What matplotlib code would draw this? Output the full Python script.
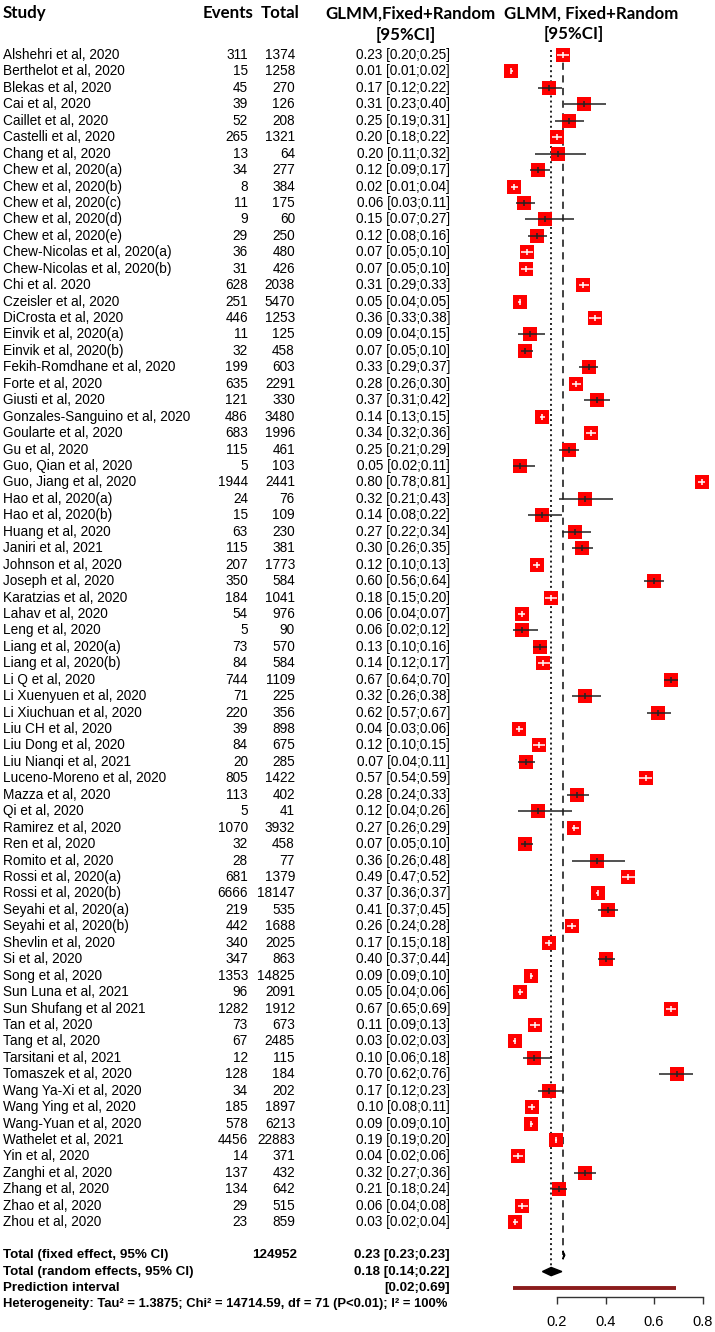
import matplotlib
matplotlib.use("Agg")
import matplotlib.pyplot as plt
import matplotlib.transforms as mtransforms
from matplotlib.patches import Polygon
import numpy as np

# study data
studies = [
    "Alshehri et al, 2020", "Berthelot et al, 2020", "Blekas et al, 2020", "Cai et al, 2020",
    "Caillet et al, 2020", "Castelli et al, 2020", "Chang et al, 2020", "Chew et al, 2020(a)",
    "Chew et al, 2020(b)", "Chew et al, 2020(c)", "Chew et al, 2020(d)", "Chew et al, 2020(e)",
    "Chew-Nicolas et al, 2020(a)", "Chew-Nicolas et al, 2020(b)", "Chi et al. 2020",
    "Czeisler et al, 2020", "DiCrosta et al, 2020", "Einvik et al, 2020(a)", "Einvik et al, 2020(b)",
    "Fekih-Romdhane et al, 2020", "Forte et al, 2020", "Giusti et al, 2020",
    "Gonzales-Sanguino et al, 2020", "Goularte et al, 2020", "Gu et al, 2020",
    "Guo, Qian et al, 2020", "Guo, Jiang et al, 2020", "Hao et al, 2020(a)", "Hao et al, 2020(b)",
    "Huang et al, 2020", "Janiri et al, 2021", "Johnson et al, 2020", "Joseph et al, 2020",
    "Karatzias et al, 2020", "Lahav et al, 2020", "Leng et al, 2020", "Liang et al, 2020(a)",
    "Liang et al, 2020(b)", "Li Q et al, 2020", "Li Xuenyuen et al, 2020", "Li Xiuchuan et al, 2020",
    "Liu CH et al, 2020", "Liu Dong et al, 2020", "Liu Nianqi et al, 2021",
    "Luceno-Moreno et al, 2020", "Mazza et al, 2020", "Qi et al, 2020", "Ramirez et al, 2020",
    "Ren et al, 2020", "Romito et al, 2020", "Rossi et al, 2020(a)", "Rossi et al, 2020(b)",
    "Seyahi et al, 2020(a)", "Seyahi et al, 2020(b)", "Shevlin et al, 2020", "Si et al, 2020",
    "Song et al, 2020", "Sun Luna et al, 2021", "Sun Shufang et al 2021", "Tan et al, 2020",
    "Tang et al, 2020", "Tarsitani et al, 2021", "Tomaszek et al, 2020", "Wang Ya-Xi et al, 2020",
    "Wang Ying et al, 2020", "Wang-Yuan et al, 2020", "Wathelet et al, 2021", "Yin et al, 2020",
    "Zanghi et al, 2020", "Zhang et al, 2020", "Zhao et al, 2020", "Zhou et al, 2020",
]
events = [311, 15, 45, 39, 52, 265, 13, 34, 8, 11, 9, 29, 36, 31, 628, 251, 446, 11, 32, 199,
          635, 121, 486, 683, 115, 5, 1944, 24, 15, 63, 115, 207, 350, 184, 54, 5, 73, 84, 744,
          71, 220, 39, 84, 20, 805, 113, 5, 1070, 32, 28, 681, 6666, 219, 442, 340, 347, 1353,
          96, 1282, 73, 67, 12, 128, 34, 185, 578, 4456, 14, 137, 134, 29, 23]
totals = [1374, 1258, 270, 126, 208, 1321, 64, 277, 384, 175, 60, 250, 480, 426, 2038, 5470,
          1253, 125, 458, 603, 2291, 330, 3480, 1996, 461, 103, 2441, 76, 109, 230, 381, 1773,
          584, 1041, 976, 90, 570, 584, 1109, 225, 356, 898, 675, 285, 1422, 402, 41, 3932, 458,
          77, 1379, 18147, 535, 1688, 2025, 863, 14825, 2091, 1912, 673, 2485, 115, 184, 202,
          1897, 6213, 22883, 371, 432, 642, 515, 859]
est = [0.23, 0.01, 0.17, 0.31, 0.25, 0.20, 0.20, 0.12, 0.02, 0.06, 0.15, 0.12, 0.07, 0.07, 0.31,
       0.05, 0.36, 0.09, 0.07, 0.33, 0.28, 0.37, 0.14, 0.34, 0.25, 0.05, 0.80, 0.32, 0.14, 0.27,
       0.30, 0.12, 0.60, 0.18, 0.06, 0.06, 0.13, 0.14, 0.67, 0.32, 0.62, 0.04, 0.12, 0.07, 0.57,
       0.28, 0.12, 0.27, 0.07, 0.36, 0.49, 0.37, 0.41, 0.26, 0.17, 0.40, 0.09, 0.05, 0.67, 0.11,
       0.03, 0.10, 0.70, 0.17, 0.10, 0.09, 0.19, 0.04, 0.32, 0.21, 0.06, 0.03]
ci_lo = [0.20, 0.01, 0.12, 0.23, 0.19, 0.18, 0.11, 0.09, 0.01, 0.03, 0.07, 0.08, 0.05, 0.05, 0.29,
         0.04, 0.33, 0.04, 0.05, 0.29, 0.26, 0.31, 0.13, 0.32, 0.21, 0.02, 0.78, 0.21, 0.08, 0.22,
         0.26, 0.10, 0.56, 0.15, 0.04, 0.02, 0.10, 0.12, 0.64, 0.26, 0.57, 0.03, 0.10, 0.04, 0.54,
         0.24, 0.04, 0.26, 0.05, 0.26, 0.47, 0.36, 0.37, 0.24, 0.15, 0.37, 0.09, 0.04, 0.65, 0.09,
         0.02, 0.06, 0.62, 0.12, 0.08, 0.09, 0.19, 0.02, 0.27, 0.18, 0.04, 0.02]
ci_hi = [0.25, 0.02, 0.22, 0.40, 0.31, 0.22, 0.32, 0.17, 0.04, 0.11, 0.27, 0.16, 0.10, 0.10, 0.33,
         0.05, 0.38, 0.15, 0.10, 0.37, 0.30, 0.42, 0.15, 0.36, 0.29, 0.11, 0.81, 0.43, 0.22, 0.34,
         0.35, 0.13, 0.64, 0.20, 0.07, 0.12, 0.16, 0.17, 0.70, 0.38, 0.67, 0.06, 0.15, 0.11, 0.59,
         0.33, 0.26, 0.29, 0.10, 0.48, 0.52, 0.37, 0.45, 0.28, 0.18, 0.44, 0.10, 0.06, 0.69, 0.13,
         0.03, 0.18, 0.76, 0.23, 0.11, 0.10, 0.20, 0.06, 0.36, 0.24, 0.08, 0.04]

fixed = (0.224, 0.23, 0.23)
random_eff = (0.176, 0.14, 0.22)
pred_int = (0.02, 0.69)
tau2 = 1.3875
total_n = "124952"
ticks = [0.2, 0.4, 0.6, 0.8]

# layout (pixels)
W, H = 715, 1332
X0, PXU = 508.5, 242.5          # x pixel of 0 and pixels per unit
ROW0, ROWH = 55, 16.44          # first row centre and row spacing
AX_L, AX_R = 495, 715

BODY = ['Liberation Sans', 'DejaVu Sans']
HEAD = ['Lato', 'DejaVu Sans']

fig = plt.figure(figsize=(W / 100, H / 100), dpi=100)
ax = fig.add_axes([AX_L / W, 0, (AX_R - AX_L) / W, 1])
ax.set_xlim((AX_L - X0) / PXU, (AX_R - X0) / PXU)
ax.set_ylim((H - ROW0) / ROWH, -ROW0 / ROWH)
ax.axis('off')

tr = mtransforms.blended_transform_factory(fig.transFigure, ax.transData)


def txt(x, y, s, ha='left', bold=False, fam=BODY, size=9.8):
    ax.text(x / W, y, s, transform=tr, ha=ha, va='center', fontsize=size,
            family=fam, fontweight='bold' if bold else 'normal', color='black')


# header
hs = 12.2
txt(3, -2.55, "Study", bold=True, fam=HEAD, size=hs)
txt(253, -2.55, "Events", ha='right', bold=True, fam=HEAD, size=hs)
txt(300, -2.55, "Total", ha='right', bold=True, fam=HEAD, size=hs)
txt(411, -2.55, "GLMM,Fixed+Random", ha='center', bold=True, fam=HEAD, size=hs)
txt(406, -1.2, "[95%CI]", ha='center', bold=True, fam=HEAD, size=hs)
txt(591, -2.55, "GLMM, Fixed+Random", ha='center', bold=True, fam=HEAD, size=hs)
txt(574, -1.3, "[95%CI]", ha='center', bold=True, fam=HEAD, size=hs)

# study rows
n = len(studies)
p = np.array(events) / np.array(totals)
w = 1 / (1 / (np.array(events) * (1 - p)) + tau2)
side_px = 14.5 * np.sqrt(w / w.max())

for i in range(n):
    txt(3, i, studies[i])
    txt(248, i, str(events[i]), ha='right')
    txt(295, i, str(totals[i]), ha='right')
    txt(450, i, f"{est[i]:.2f} [{ci_lo[i]:.2f};{ci_hi[i]:.2f}]", ha='right')

    half = side_px[i] / 2 / PXU
    inside = ci_lo[i] >= p[i] - half and ci_hi[i] <= p[i] + half
    col = 'white' if inside else '#222222'
    ax.plot(p[i], i, marker='s', ms=side_px[i] * 0.72, color='#ff0000', mew=0, zorder=3)
    ax.plot([ci_lo[i], ci_hi[i]], [i, i], color=col, lw=1.1, zorder=4, solid_capstyle='butt')
    ax.plot(p[i], i, marker='|', ms=4.5, mew=1.1, color=col, zorder=4)

# reference lines
ax.plot([random_eff[0]] * 2, [-0.3, n + 2], color='#222222', lw=1.4,
        linestyle=(0, (1, 1.6)), zorder=1)
ax.plot([fixed[0]] * 2, [-0.3, n + 1], color='#333333', lw=1.3,
        linestyle=(0, (4, 3)), zorder=1)

# summary diamonds and prediction interval
ax.add_patch(Polygon([(fixed[1] - 0.002, n + 1), (fixed[0], n + 1 - 0.25),
                      (fixed[2] + 0.002, n + 1), (fixed[0], n + 1 + 0.25)],
                     closed=True, color='black', zorder=5))
ax.add_patch(Polygon([(random_eff[1], n + 2), (random_eff[0], n + 2 - 0.25),
                      (random_eff[2], n + 2), (random_eff[0], n + 2 + 0.25)],
                     closed=True, color='black', zorder=5))
ax.plot(pred_int, [n + 3, n + 3], color='#8b1c1c', lw=2.8, solid_capstyle='butt')

bs = 9.6
txt(3, n + 1, "Total (fixed effect, 95% CI)", bold=True, size=bs)
txt(297, n + 1, total_n, ha='right', bold=True, size=bs)
txt(450, n + 1, f"{fixed[1]:.2f} [{fixed[1]:.2f};{fixed[2]:.2f}]", ha='right', bold=True, size=bs)
txt(3, n + 2, "Total (random effects, 95% CI)", bold=True, size=bs)
txt(450, n + 2, "0.18 [0.14;0.22]", ha='right', bold=True, size=bs)
txt(3, n + 3, "Prediction interval", bold=True, size=bs)
txt(450, n + 3, f"[{pred_int[0]:.2f};{pred_int[1]:.2f}]", ha='right', bold=True, size=bs)
txt(3, n + 4, "Heterogeneity: Tau\u00b2 = 1.3875; Chi\u00b2 = 14714.59, df = 71 (P<0.01); "
        "I\u00b2 = 100%", bold=True, size=9.4)

# x axis
ax2 = fig.add_axes([AX_L / W, 1 - 1297 / H, (AX_R - AX_L) / W, 0.0005])
ax2.set_xlim(ax.get_xlim())
ax2.patch.set_visible(False)
for s in ['top', 'left', 'right']:
    ax2.spines[s].set_visible(False)
ax2.spines['bottom'].set_bounds(ticks[0], ticks[-1])
ax2.spines['bottom'].set_linewidth(1.0)
ax2.spines['bottom'].set_color('#333333')
ax2.set_yticks([])
ax2.set_xticks(ticks)
ax2.set_xticklabels([f"{t:.1f}" for t in ticks], family=BODY, fontsize=10.5)
ax2.tick_params(axis='x', direction='out', length=5, width=1.0, color='#333333', pad=8)

fig.savefig("out.png", dpi=100)
